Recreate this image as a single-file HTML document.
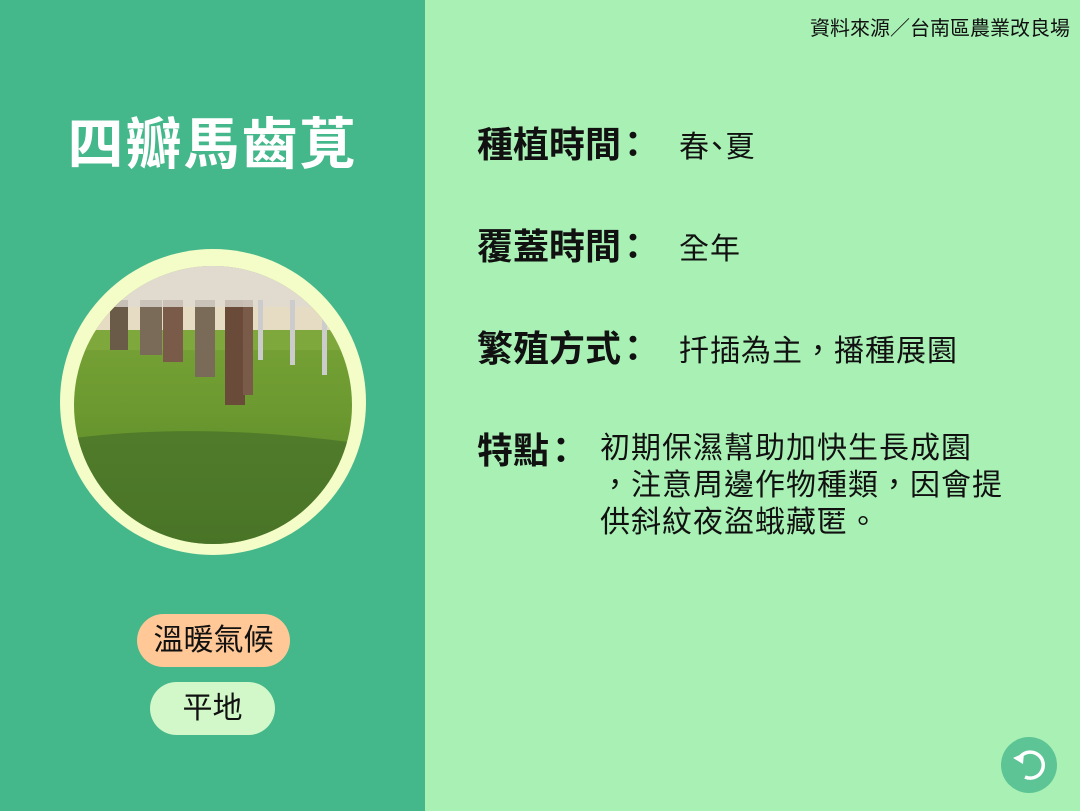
<!DOCTYPE html>
<html><head><meta charset="utf-8"><style>
body{margin:0;width:1080px;height:811px;overflow:hidden;font-family:"Liberation Sans","Noto Sans CJK TC",sans-serif;}
#left{position:absolute;left:0;top:0;width:425px;height:811px;background:#44b78b;}
#right{position:absolute;left:425px;top:0;width:655px;height:811px;background:#a8f0b4;}
.t{position:absolute;white-space:nowrap;color:#111;}
.lab{font-size:36px;font-weight:bold;}
.val{font-size:30px;letter-spacing:1px;}
</style></head><body>
<div id="left">
 <div class="t" style="left:0;width:425px;text-align:center;top:100px;font-size:56px;font-weight:bold;color:#fff;letter-spacing:2px;">四瓣馬齒莧</div>
 <svg style="position:absolute;left:0;top:0" width="425" height="600">
  <defs>
   <clipPath id="c"><circle cx="213" cy="405" r="139"/></clipPath>
   <linearGradient id="g" x1="0" y1="0" x2="0" y2="1">
    <stop offset="0" stop-color="#7fa83c"/><stop offset="0.5" stop-color="#6c9a30"/><stop offset="1" stop-color="#4f7a22"/>
   </linearGradient>
  </defs>
  <circle cx="213" cy="402" r="153" fill="#f4fcc8"/>
  <g clip-path="url(#c)">
   <rect x="60" y="260" width="310" height="300" fill="url(#g)"/>
   <rect x="60" y="260" width="310" height="85" fill="#e6dcc4"/>
   <rect x="60" y="330" width="310" height="20" fill="#7fa83c"/>
   <path d="M60 440 Q200 420 370 445 L370 560 L60 560Z" fill="#46702a" opacity="0.7"/>
   <rect x="110" y="300" width="18" height="50" fill="#6a5a48"/>
   <rect x="140" y="300" width="22" height="55" fill="#7a6a58"/>
   <rect x="163" y="300" width="20" height="62" fill="#7a5a48"/>
   <rect x="195" y="300" width="20" height="77" fill="#7a6a58"/>
   <rect x="225" y="300" width="20" height="105" fill="#6a4a38"/>
   <rect x="243" y="300" width="10" height="95" fill="#7a5a48"/>
   <rect x="100" y="262" width="230" height="45" fill="#dedad2" opacity="0.8"/>
   <rect x="258" y="300" width="5" height="60" fill="#ccc"/>
   <rect x="290" y="300" width="5" height="65" fill="#ccc"/>
   <rect x="322" y="300" width="5" height="75" fill="#ccc"/>
  </g>
 </svg>
 <div class="t" style="left:137px;top:614px;width:153px;height:53px;border-radius:27px;background:#ffc896;text-align:center;line-height:53px;font-size:30px;">溫暖氣候</div>
 <div class="t" style="left:150px;top:682px;width:125px;height:53px;border-radius:27px;background:#d2f7c8;text-align:center;line-height:53px;font-size:30px;">平地</div>
</div>
<div id="right">
 <div class="t" style="right:10px;top:12px;font-size:20px;">資料來源／台南區農業改良場</div>
 <div class="t lab" style="left:52px;top:116px;">種植時間<span style="margin-left:-6px">：</span></div>
 <div class="t val" style="left:254px;top:122px;">春<span style="margin:0 -8px">、</span>夏</div>
 <div class="t lab" style="left:52px;top:218px;">覆蓋時間<span style="margin-left:-6px">：</span></div>
 <div class="t val" style="left:254px;top:224px;">全年</div>
 <div class="t lab" style="left:52px;top:320px;">繁殖方式<span style="margin-left:-6px">：</span></div>
 <div class="t val" style="left:254px;top:326px;">扦插為主，播種展園</div>
 <div class="t lab" style="left:52px;top:422px;">特點<span style="margin-left:-6px">：</span></div>
 <div class="t val" style="left:175px;top:430px;line-height:37px;">初期保濕幫助加快生長成園<br>，注意周邊作物種類，因會提<br>供斜紋夜盜蛾藏匿。</div>
 <svg style="position:absolute;left:576px;top:737px" width="56" height="56">
  <circle cx="28" cy="28" r="28" fill="#5cc495"/>
  <path d="M20 19 A13 13 0 1 1 24 40" fill="none" stroke="#fff" stroke-width="3.5"/>
  <path d="M12 21 L23 16 L22 27Z" fill="#fff"/>
 </svg>
</div>
</body></html>
